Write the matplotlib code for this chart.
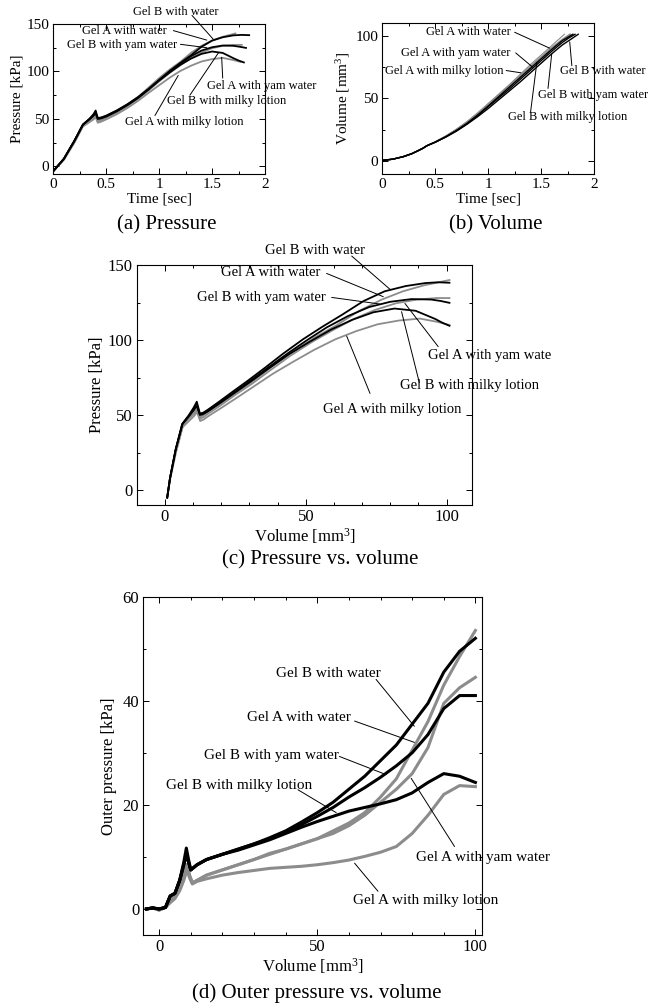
import matplotlib
matplotlib.use("Agg")
import matplotlib.pyplot as plt
from matplotlib.ticker import MultipleLocator

plt.rcParams['font.family'] = ['Liberation Serif', 'DejaVu Serif']
plt.rcParams['mathtext.fontset'] = 'custom'
plt.rcParams['mathtext.rm'] = 'Liberation Serif'
plt.rcParams['mathtext.it'] = 'Liberation Serif:italic'

# ---------------- data: time, volume, pressure (panels a, b, c) ----------------
series_names = ["Gel A with water", "Gel A with yam water", "Gel A with milky lotion",
                "Gel B with water", "Gel B with yam water", "Gel B with milky lotion"]
series_colors = ["#8c8c8c", "#8c8c8c", "#8c8c8c", "black", "black", "black"]

t_common = [0, 0.1, 0.2, 0.28, 0.34, 0.38, 0.40, 0.42, 0.45, 0.5, 0.6, 0.7,
            0.8, 0.9, 1.0, 1.1, 1.2, 1.3, 1.4, 1.5, 1.6]

t_a_water = t_common + [1.72]
v_a_water = [0.8, 1.8, 3.9, 6.3, 8.7, 10.3, 11.3, 12.4, 13.6, 15.5, 20, 25.5,
             31.5, 38.5, 46, 53.5, 61, 69, 77, 84.5, 92, 101]
p_a_water = [-5, 8, 27, 44, 49.5, 52.5, 54, 48.5, 50, 52.5, 58, 65,
             73, 83, 93, 102, 110, 119.5, 127, 132.5, 136.5, 140]

t_a_yam = t_common + [1.7, 1.78]
v_a_yam = [0.8, 1.8, 3.9, 6.3, 8.7, 10.3, 11.3, 12.4, 13.6, 15.4, 19.8, 25,
           31, 37.5, 44.5, 52, 59.5, 67, 74.5, 82, 89.5, 96.5, 101]
p_a_yam = [-5, 7, 26, 43, 48, 51, 53, 47.5, 48.5, 51, 56.5, 63.5,
           71, 80, 89.5, 98.5, 106.5, 114, 120, 124.5, 127, 128, 128]

t_a_milky = t_common + [1.7, 1.77]
v_a_milky = [0.8, 1.8, 3.9, 6.3, 8.8, 10.4, 11.4, 12.5, 13.7, 15.6, 20.2, 25.5,
             31.5, 38.3, 45.5, 53, 60.5, 68, 75.5, 83, 90.5, 97, 101]
p_a_milky = [-5, 7, 25, 42, 46.5, 49.5, 52, 46, 47, 49.5, 55, 61.5,
             69, 77.5, 85.5, 93.5, 100.5, 106, 110.5, 113, 114.3, 112, 110]

t_b_water = t_common + [1.7, 1.78, 1.85]
v_b_water = [0.8, 1.8, 3.8, 6.1, 8.5, 10.2, 11.3, 12.4, 13.5, 15.2, 19.3, 24,
             29.5, 35.5, 42, 49, 56, 63, 70.5, 78, 85.5, 92.5, 97, 101]
p_b_water = [-5, 8, 27, 44, 50, 55, 58.9, 51, 51.5, 53.5, 59, 65.5,
             73, 81.5, 91, 100.5, 109, 117, 126, 132.5, 136, 138, 138.5, 138.2]

t_b_yam = t_common + [1.7, 1.76, 1.82]
v_b_yam = [0.8, 1.8, 3.8, 6.2, 8.6, 10.3, 11.3, 12.4, 13.5, 15.3, 19.6, 24.5,
           30, 36.5, 43.5, 50.5, 57.5, 65, 72.5, 80, 87.5, 94.5, 98, 101]
p_b_yam = [-5, 8, 27, 44, 49.5, 54, 57, 50.5, 51, 53, 58.5, 65,
           72.5, 81.5, 91, 100, 108.5, 116, 122, 125.5, 127.3, 127, 126, 124.8]

t_b_milky = t_common + [1.7, 1.75, 1.80]
v_b_milky = [0.8, 1.8, 3.8, 6.2, 8.6, 10.3, 11.3, 12.4, 13.5, 15.3, 19.6, 24.5,
             30.2, 36.8, 44, 51.5, 59, 66.5, 74, 81.5, 89, 96, 98.5, 101]
p_b_milky = [-5, 8, 27, 44, 49.5, 53.5, 56, 50, 50.5, 52.5, 58, 64.5,
             72, 81, 90.5, 99, 107, 113.5, 118.5, 121, 119.5, 114, 111.5, 109.5]

times = [t_a_water, t_a_yam, t_a_milky, t_b_water, t_b_yam, t_b_milky]
volumes = [v_a_water, v_a_yam, v_a_milky, v_b_water, v_b_yam, v_b_milky]
pressures = [p_a_water, p_a_yam, p_a_milky, p_b_water, p_b_yam, p_b_milky]

# ---------------- data: outer pressure vs volume (panel d) ----------------
vd_a = [-4, -2, 0, 2, 3.5, 5, 6.5, 7.8, 8.8, 9.6, 10.5, 12, 15, 20, 25, 30, 35,
        40, 45, 50, 55, 60, 65, 70, 75, 80, 85, 90, 95, 100]
vd_b = [-4, -2, 0, 2, 3.5, 5, 6.5, 7.8, 8.6, 9.3, 10, 12, 15, 20, 25, 30, 35,
        40, 45, 50, 55, 60, 65, 70, 75, 80, 85, 90, 95, 100]
od_a_water = [0, 0.2, -0.2, 0.3, 1.5, 2.5, 4, 6.5, 8.5, 6.5, 5, 5.5, 6.5, 7.5, 8.5,
              9.5, 10.7, 11.5, 12.5, 13.5, 15, 16.5, 18.5, 21.5, 25, 30.5, 36, 43, 48.5, 53.5]
od_a_yam = [0, 0.2, -0.2, 0.3, 1.5, 2.5, 4, 6.5, 8.5, 6.5, 5, 5.5, 6.5, 7.5, 8.5,
            9.5, 10.5, 11.5, 12.5, 13.5, 14.5, 16, 18, 20.5, 23, 26, 31, 39.5, 42.5, 44.5]
od_a_milky = [0, 0.2, -0.2, 0.3, 1.2, 2, 3.5, 5.5, 7.5, 6, 4.8, 5.3, 5.8, 6.5, 7,
              7.4, 7.8, 8, 8.2, 8.5, 8.9, 9.4, 10.1, 10.9, 12, 14.5, 18, 22, 23.7, 23.5]
od_b_water = [0, 0.2, 0, 0.3, 2.5, 3, 5.5, 9, 11.7, 9.5, 7.5, 8.5, 9.5, 10.5, 11.5,
              12.5, 13.7, 15, 16.7, 18.5, 20.5, 23, 25.5, 28.5, 31.5, 35.5, 39.5, 45.5, 49.5, 52]
od_b_yam = [0, 0.2, 0, 0.3, 2.5, 3, 5.5, 8.5, 10.5, 9, 7.5, 8.5, 9.5, 10.5, 11.5,
            12.5, 13.5, 14.7, 16.2, 17.8, 19.5, 21.5, 23.3, 25.3, 27.5, 30, 33.5, 38.5, 41, 41]
od_b_milky = [0, 0.2, 0, 0.3, 2.5, 3, 5.5, 8.5, 10.5, 9, 7.5, 8.5, 9.5, 10.5, 11.3,
              12.3, 13.3, 14.5, 15.7, 16.8, 17.8, 18.8, 19.5, 20.2, 21, 22.3, 24.3, 26, 25.5, 24.3]
d_volumes = [vd_a, vd_a, vd_a, vd_b, vd_b, vd_b]
d_pressures = [od_a_water, od_a_yam, od_a_milky, od_b_water, od_b_yam, od_b_milky]

# ---------------- annotation layout (label, text xy, leader start, leader end) ----
ann_a = [("Gel B with water", (0.756, 162.6), (1.31, 159), (1.51, 134)),
         ("Gel A with water", (0.268, 143), (1.134, 143), (1.45, 133)),
         ("Gel B with yam water", (0.127, 127.5), (1.2, 128.6), (1.45, 125)),
         ("Gel A with yam water", (1.45, 85), (1.6, 93), (1.59, 115)),
         ("Gel B with milky lotion", (1.07, 68.6), (1.29, 75), (1.56, 119.7)),
         ("Gel A with milky lotion", (0.68, 47), (0.96, 53.6), (1.18, 95.8))]
ann_b = [("Gel A with water", (0.41, 102.6), (1.25, 102.6), (1.58, 90)),
         ("Gel A with yam water", (0.18, 86.2), (1.26, 86.2), (1.42, 74.9)),
         ("Gel A with milky lotion", (0.022, 72.2), (1.17, 72.2), (1.31, 70.4)),
         ("Gel B with water", (1.676, 72.2), (1.79, 76), (1.77, 95)),
         ("Gel B with yam water", (1.471, 52.4), (1.565, 58), (1.6, 85.4)),
         ("Gel B with milky lotion", (1.187, 35.2), (1.4, 39), (1.46, 78.8))]
ann_c = [("Gel B with water", (35.5, 160), (66.3, 156), (79.9, 133.8)),
         ("Gel A with water", (19.9, 144.9), (57.4, 144.4), (77.5, 128.9)),
         ("Gel B with yam water", (11.2, 128.4), (59.2, 128.4), (76.3, 124)),
         ("Gel A with yam wate", (93.5, 90), (97, 95.6), (85.2, 124.4)),
         ("Gel B with milky lotion", (83.4, 70), (90.3, 71.6), (84, 118.9)),
         ("Gel A with milky lotion", (56, 53.8), (72.8, 64.4), (64.5, 102.7))]
ann_d = [("Gel B with water", (36.8, 45.2), (68.6, 44.1), (80.7, 35.1)),
         ("Gel A with water", (27.8, 36.7), (61.8, 36.1), (80.7, 32)),
         ("Gel B with yam water", (14.1, 29.5), (57, 29.3), (71.8, 25.8)),
         ("Gel B with milky lotion", (2.1, 23.7), (43.9, 22.9), (56, 18.5)),
         ("Gel A with yam water", (81.3, 9.8), (93.4, 12), (79.7, 25.1)),
         ("Gel A with milky lotion", (61.3, 1.65), (69.2, 3.4), (61.8, 8.8))]

# ---------------- figure ----------------
fig = plt.figure(figsize=(6.66, 10.07), dpi=100)
ax_a = fig.add_axes([0.080, 0.8272, 0.318, 0.149])
ax_b = fig.add_axes([0.574, 0.8272, 0.318, 0.150])
ax_c = fig.add_axes([0.2054, 0.4985, 0.5033, 0.2383])
ax_d = fig.add_axes([0.2152, 0.0715, 0.5081, 0.336])


def style(ax, fs, xmaj, xmin, ymaj, ymin):
    ax.xaxis.set_major_locator(MultipleLocator(xmaj))
    ax.xaxis.set_minor_locator(MultipleLocator(xmin))
    ax.yaxis.set_major_locator(MultipleLocator(ymaj))
    ax.yaxis.set_minor_locator(MultipleLocator(ymin))
    ax.tick_params(which='both', direction='in', top=True, right=True,
                   labelsize=fs, width=0.7, pad=3)
    ax.tick_params(which='major', length=4)
    ax.tick_params(which='minor', length=2.5)
    for s in ax.spines.values():
        s.set_linewidth(0.8)


def annotate(ax, items, fs):
    for label, txy, s, e in items:
        ax.text(txy[0], txy[1], label, ha='left', va='center', fontsize=fs,
                clip_on=False)
        ax.annotate('', xy=e, xytext=s, annotation_clip=False,
                    arrowprops=dict(arrowstyle='-', lw=0.7, color='black',
                                    shrinkA=0, shrinkB=0))


order = [0, 1, 2, 3, 4, 5]

# (a) pressure vs time
for i in order:
    ax_a.plot(times[i], pressures[i], color=series_colors[i], lw=1.3)
ax_a.set_xlim(0, 2)
ax_a.set_ylim(-8, 150)
style(ax_a, 11, 0.5, 0.25, 50, 25)
ax_a.set_xticks([0, 0.5, 1, 1.5, 2])
ax_a.set_xticklabels(['0', '0.5', '1', '1.5', '2'])
ax_a.set_xlabel('Time [sec]', fontsize=11, labelpad=1)
ax_a.set_ylabel('Pressure [kPa]', fontsize=11, labelpad=2)
annotate(ax_a, ann_a, 9)

# (b) volume vs time
for i in order:
    ax_b.plot(times[i], volumes[i], color=series_colors[i],
              lw=0.8 if i == 0 else 1.0)
ax_b.set_xlim(0, 2)
ax_b.set_ylim(-10, 110)
style(ax_b, 11, 0.5, 0.25, 50, 25)
ax_b.set_xticks([0, 0.5, 1, 1.5, 2])
ax_b.set_xticklabels(['0', '0.5', '1', '1.5', '2'])
ax_b.set_xlabel('Time [sec]', fontsize=11, labelpad=1)
ax_b.set_ylabel('Volume [mm$^3$]', fontsize=11, labelpad=2)
annotate(ax_b, ann_b, 9)

# (c) pressure vs volume
for i in order:
    ax_c.plot(volumes[i], pressures[i], color=series_colors[i], lw=1.3)
ax_c.set_xlim(-10, 109)
ax_c.set_ylim(-10, 150)
style(ax_c, 12, 50, 10, 50, 25)
ax_c.set_xlabel('Volume [mm$^3$]', fontsize=12, labelpad=1)
ax_c.set_ylabel('Pressure [kPa]', fontsize=12, labelpad=2)
annotate(ax_c, ann_c, 10.5)

# (d) outer pressure vs volume
for i in order:
    ax_d.plot(d_volumes[i], d_pressures[i], color=series_colors[i], lw=2.2)
ax_d.set_xlim(-5, 102)
ax_d.set_ylim(-5, 60)
style(ax_d, 12, 50, 10, 20, 10)
ax_d.set_xlabel('Volume [mm$^3$]', fontsize=12, labelpad=1)
ax_d.set_ylabel('Outer pressure [kPa]', fontsize=12, labelpad=4)
annotate(ax_d, ann_d, 11)

# captions
fig.text(167 / 666, 1 - 225 / 1007, '(a) Pressure', ha='center', va='center', fontsize=15)
fig.text(496 / 666, 1 - 225 / 1007, '(b) Volume', ha='center', va='center', fontsize=15)
fig.text(320 / 666, 1 - 560 / 1007, '(c) Pressure vs. volume', ha='center', va='center', fontsize=15)
fig.text(317 / 666, 1 - 993 / 1007, '(d) Outer pressure vs. volume', ha='center', va='center', fontsize=15)

fig.savefig('out.png', dpi=100)
